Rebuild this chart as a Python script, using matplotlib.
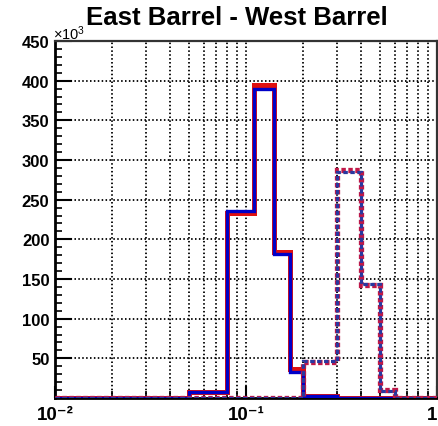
import matplotlib
matplotlib.use("Agg")
import matplotlib.pyplot as plt
import numpy as np
from matplotlib.ticker import FixedLocator, NullFormatter

plt.rcParams['font.family'] = ['Liberation Sans', 'DejaVu Sans']
plt.rcParams['lines.scale_dashes'] = False
plt.rcParams['mathtext.fontset'] = 'custom'
plt.rcParams['mathtext.rm'] = 'Liberation Sans'

# bin edges (x axis, log scale)
edges = [0.01, 0.05, 0.08, 0.11, 0.14, 0.17, 0.20, 0.30, 0.40, 0.50, 0.60, 1.0]
# solid histograms (values in units of 10^3)
solid_red = [0, 7, 233, 395, 184, 36, 3, 0, 0, 0, 0]
solid_blue = [0, 7, 236, 390, 182, 33, 2, 0, 0, 0, 0]
# dashed histograms
dash_red = [0, 0, 0, 0, 0, 0, 46, 287, 143, 10, 0]
dash_blue = [0, 0, 0, 0, 0, 0, 47, 285, 144, 9, 0]

y_ticks = [50, 100, 150, 200, 250, 300, 350, 400, 450]
x_ticks = [0.01, 0.1, 1.0]
x_ticklabels = ['10\u207b\u00b2', '10\u207b\u00b9', '1']

W, H = 439, 427
fig = plt.figure(figsize=(W / 100, H / 100), dpi=100)
ax = fig.add_axes([55 / W, 1 - 399 / H, (437 - 55) / W, (399 - 42) / H])

ax.set_xscale('log')
ax.set_xlim(0.01, 1.0)
ax.set_ylim(0, 450)

# grid
minor_x = [m * 10.0 ** e for e in (-2, -1) for m in range(2, 10)]
grid_ls = (0, (1.1, 1.7))
for xv in minor_x + [0.1]:
    ax.axvline(xv, color='black', lw=1.3, ls=grid_ls, zorder=1)
for yv in y_ticks[:-1]:
    ax.axhline(yv, color='black', lw=1.3, ls=grid_ls, zorder=1)

# histograms
ax.stairs(solid_red, edges, color='#e01010', lw=3.6, zorder=3)
ax.stairs(solid_blue, edges, color='#0000c8', lw=2.4, zorder=4)
ax.stairs(dash_red, edges, color='#c01848', lw=3.8, ls=(0, (3.2, 1.8)), zorder=5)
ax.stairs(dash_blue, edges, color='#2838a0', lw=2.3, ls=(0, (3.2, 1.8)), zorder=6)

# ticks
ax.yaxis.set_major_locator(FixedLocator(y_ticks))
ax.yaxis.set_minor_locator(FixedLocator(np.arange(10, 450, 10)))
ax.set_yticklabels([str(v) for v in y_ticks], fontsize=12, fontweight='bold')
ax.tick_params(axis='y', which='major', direction='in', length=12, width=1.5, pad=4)
ax.tick_params(axis='y', which='minor', direction='in', length=5, width=1.2)

ax.xaxis.set_major_locator(FixedLocator(x_ticks))
ax.set_xticklabels(x_ticklabels, fontsize=13.5, fontweight='bold')
ax.xaxis.set_minor_locator(FixedLocator(minor_x))
ax.xaxis.set_minor_formatter(NullFormatter())
ax.tick_params(axis='x', which='major', direction='in', length=9, width=1.5, pad=6)
ax.tick_params(axis='x', which='minor', direction='in', length=5, width=1.2)
ax.tick_params(top=False, right=False)
lbls = ax.get_xticklabels()
lbls[-1].set_horizontalalignment('right')

for s in ('left', 'bottom'):
    ax.spines[s].set_linewidth(2.0)
    ax.spines[s].set_color('black')
for s in ('top', 'right'):
    ax.spines[s].set_linewidth(1.6)
    ax.spines[s].set_color('#333333')

# multiplier
fig.text(53 / W, 1 - 40 / H, r'$\mathrm{\times 10^{3}}$', fontsize=10.5, ha='left', va='baseline')

# title
fig.text(237 / W, 1 - 25 / H, 'East Barrel - West Barrel', fontsize=18.5,
         fontweight='bold', ha='center', va='baseline')

fig.savefig('out.png', dpi=100)
